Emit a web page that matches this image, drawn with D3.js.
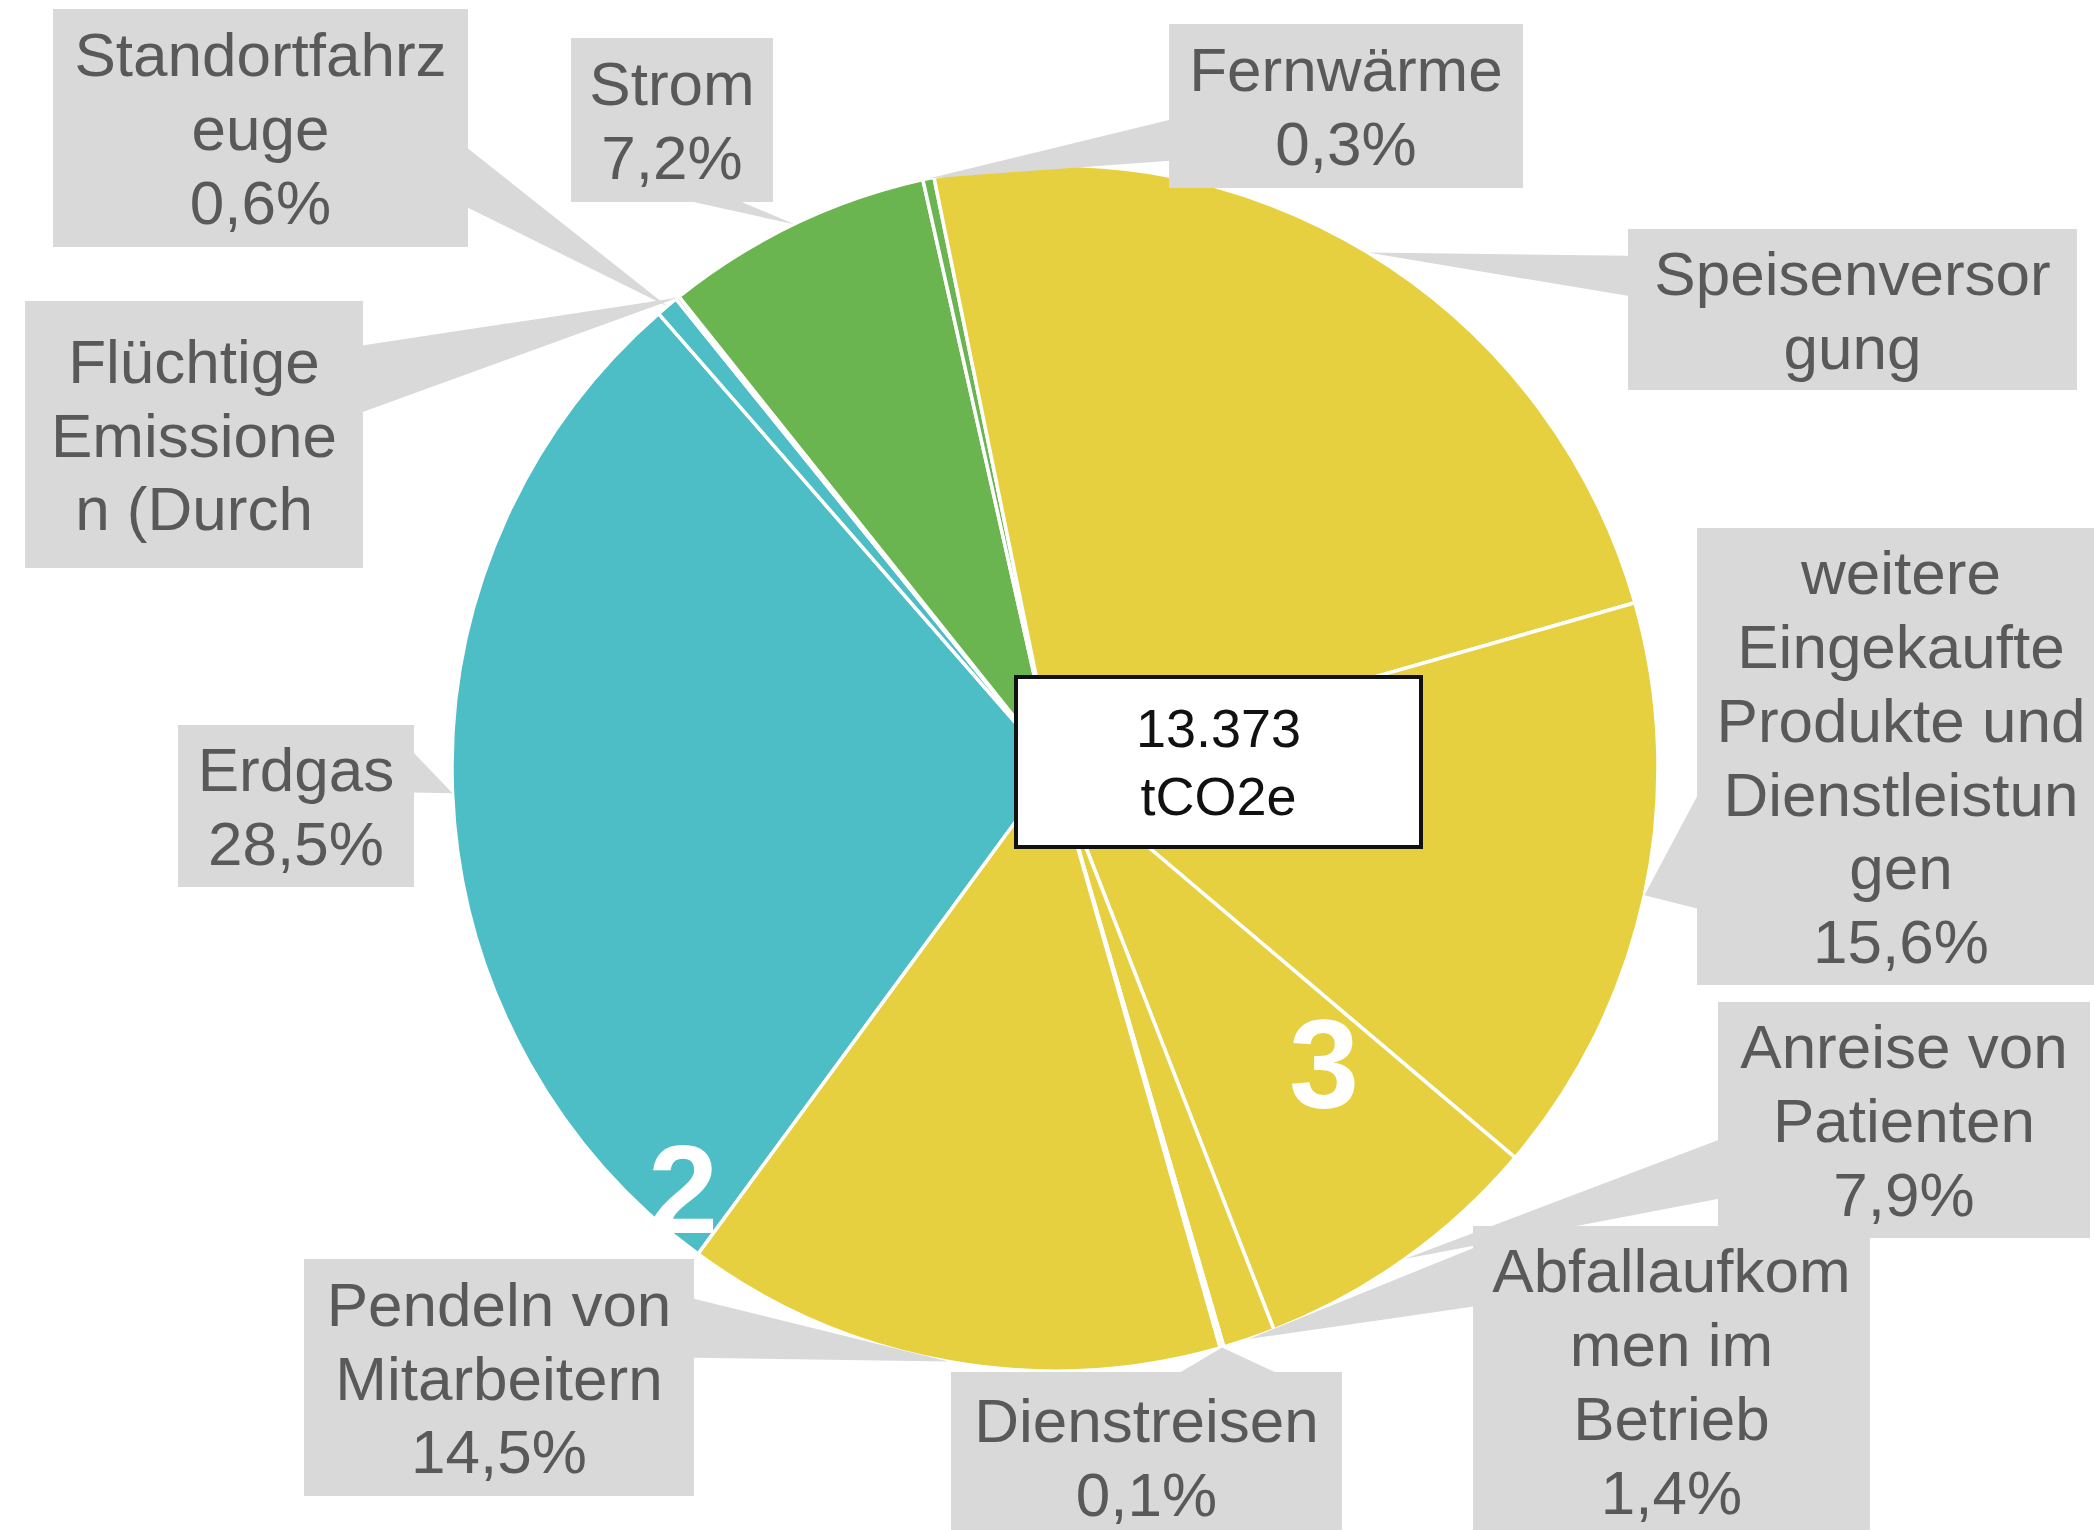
<!DOCTYPE html>
<html>
<head>
<meta charset="utf-8">
<script src="https://cdn.jsdelivr.net/npm/d3@7"></script>
<style>
  html, body { margin: 0; padding: 0; background: #ffffff; }
  svg { display: block; }
</style>
</head>
<body>
<script>
// ---------------- DATA ----------------
const categories = [
  "Erdgas", "Standortfahrzeuge", "Flüchtige Emissionen (Durchleitung)", "Strom", "Fernwärme",
  "Speisenversorgung", "weitere Eingekaufte Produkte und Dienstleistungen",
  "Anreise von Patienten", "Abfallaufkommen im Betrieb", "Dienstreisen", "Pendeln von Mitarbeitern"
];
const values = [28.5, 0.6, 0.1, 7.2, 0.3, 23.8, 15.6, 7.9, 1.4, 0.1, 14.5];
const scopes = [1, 1, 1, 2, 2, 3, 3, 3, 3, 3, 3];
// label text as wrapped in the original
const labelNameLines = [
  ["Erdgas"], ["Standortfahrz", "euge"], ["Flüchtige", "Emissione", "n (Durch"], ["Strom"], ["Fernwärme"],
  ["Speisenversor", "gung"], ["weitere", "Eingekaufte", "Produkte und", "Dienstleistun", "gen"],
  ["Anreise von", "Patienten"], ["Abfallaufkom", "men im", "Betrieb"], ["Dienstreisen"], ["Pendeln von", "Mitarbeitern"]
];
const showPercent = [true, true, false, true, true, false, true, true, true, true, true];
const totalLines = ["13.373", "tCO2e"];
const scopeMarkers = ["2", "3"];

// ---------------- LAYOUT / STYLE ----------------
const W = 2094, H = 1530;
const cx = 1055, cy = 768, R = 603;
const startDeg = 216.3;
const scopeColors = {1: "#4DBDC6", 2: "#6BB550", 3: "#E7D03F"};
const boxFill = "#D9D9D9", textFill = "#595959";
const fontFamily = "'Liberation Sans', Arial, Helvetica, sans-serif";
const fs = 62, lh = 73.8;
// label boxes [x0, y0, x1, y1]
const labelBoxes = [
  [178, 725, 414, 887],
  [53, 9, 468, 247],
  [25, 301, 363, 568],
  [571, 38, 773, 202],
  [1169, 24, 1523, 188],
  [1628, 229, 2077, 390],
  [1697, 528, 2105, 985],
  [1718, 1002, 2090, 1238],
  [1473, 1226, 1870, 1536],
  [951, 1372, 1342, 1542],
  [304, 1259, 694, 1496]
];
// optional pointer base fractions along the attached side (null = automatic)
const pointerBase = [null, null, null, null, null, null, null, null, [0.07, 0.26], null, null];
const totalBox = [1016, 677, 1421, 847];
const markerPos = [[683, 1233], [1324, 1108]];

// ---------------- DRAW ----------------
const svg = d3.select("body").append("svg")
  .attr("width", W).attr("height", H)
  .attr("viewBox", `0 0 ${W} ${H}`);

const toRad = d => d * Math.PI / 180;
const pie = d3.pie().sort(null).value(d => d)
  .startAngle(toRad(startDeg)).endAngle(toRad(startDeg + 360));
const arcs = pie(values);
const arc = d3.arc().innerRadius(0).outerRadius(R);

const g = svg.append("g").attr("transform", `translate(${cx},${cy})`);
g.selectAll("path.slice").data(arcs).enter().append("path")
  .attr("class", "slice")
  .attr("d", arc)
  .attr("fill", (d, i) => scopeColors[scopes[i]])
  .attr("stroke", "#ffffff")
  .attr("stroke-width", 3.5)
  .attr("stroke-linejoin", "round");

// callout pointers (Excel wedgeRectCallout style)
function wedge(box, tip, override) {
  const [x0, y0, x1, y1] = box;
  const w = x1 - x0, h = y1 - y0;
  const bx = (x0 + x1) / 2, by = (y0 + y1) / 2;
  const dx = tip[0] - bx, dy = tip[1] - by;
  let a, b;
  if (Math.abs(dx) * h > Math.abs(dy) * w) {
    const sx = dx > 0 ? x1 - 1 : x0 + 1;
    const f = override || (dy > 0 ? [7 / 12, 10 / 12] : [2 / 12, 5 / 12]);
    a = [sx, y0 + h * f[0]]; b = [sx, y0 + h * f[1]];
  } else {
    const sy = dy > 0 ? y1 - 1 : y0 + 1;
    const f = override || (dx > 0 ? [7 / 12, 10 / 12] : [2 / 12, 5 / 12]);
    a = [x0 + w * f[0], sy]; b = [x0 + w * f[1], sy];
  }
  return `M${a[0]},${a[1]}L${tip[0]},${tip[1]}L${b[0]},${b[1]}Z`;
}
const tips = arcs.map(d => {
  const m = (d.startAngle + d.endAngle) / 2;
  return [cx + R * Math.sin(m), cy - R * Math.cos(m)];
});

const labels = svg.append("g");
labels.selectAll("path.pointer").data(arcs).enter().append("path")
  .attr("class", "pointer")
  .attr("d", (d, i) => wedge(labelBoxes[i], tips[i], pointerBase[i]))
  .attr("fill", boxFill);
labels.selectAll("rect.lbl").data(arcs).enter().append("rect")
  .attr("class", "lbl")
  .attr("x", (d, i) => labelBoxes[i][0])
  .attr("y", (d, i) => labelBoxes[i][1])
  .attr("width", (d, i) => labelBoxes[i][2] - labelBoxes[i][0])
  .attr("height", (d, i) => labelBoxes[i][3] - labelBoxes[i][1])
  .attr("fill", boxFill);

const pctFmt = v => d3.format(".1f")(v).replace(".", ",") + "%";
arcs.forEach((d, i) => {
  const lines = labelNameLines[i].concat(showPercent[i] ? [pctFmt(values[i])] : []);
  const [x0, y0, x1, y1] = labelBoxes[i];
  const bx = (x0 + x1) / 2, by = (y0 + y1) / 2;
  const n = lines.length;
  const t = labels.append("text")
    .attr("font-family", fontFamily)
    .attr("font-size", fs)
    .attr("fill", textFill)
    .attr("text-anchor", "middle");
  lines.forEach((ln, k) => {
    t.append("tspan")
      .attr("x", bx)
      .attr("y", by + (k - (n - 1) / 2) * lh + fs * 0.358)
      .text(ln);
  });
});

// total box in the centre
svg.append("rect")
  .attr("x", totalBox[0]).attr("y", totalBox[1])
  .attr("width", totalBox[2] - totalBox[0]).attr("height", totalBox[3] - totalBox[1])
  .attr("fill", "#ffffff").attr("stroke", "#111111").attr("stroke-width", 4);
const tt = svg.append("text")
  .attr("font-family", fontFamily).attr("font-size", 54)
  .attr("fill", "#111111").attr("text-anchor", "middle");
const tbx = (totalBox[0] + totalBox[2]) / 2, tby = (totalBox[1] + totalBox[3]) / 2;
totalLines.forEach((ln, k) => {
  tt.append("tspan").attr("x", tbx)
    .attr("y", tby + (k - (totalLines.length - 1) / 2) * 68 + 54 * 0.358)
    .text(ln);
});

// white scope markers
svg.selectAll("text.marker").data(scopeMarkers).enter().append("text")
  .attr("class", "marker")
  .attr("x", (d, i) => markerPos[i][0])
  .attr("y", (d, i) => markerPos[i][1])
  .attr("font-family", fontFamily)
  .attr("font-weight", "bold")
  .attr("font-size", 126)
  .attr("fill", "#ffffff")
  .attr("text-anchor", "middle")
  .text(d => d);
</script>
</body>
</html>
